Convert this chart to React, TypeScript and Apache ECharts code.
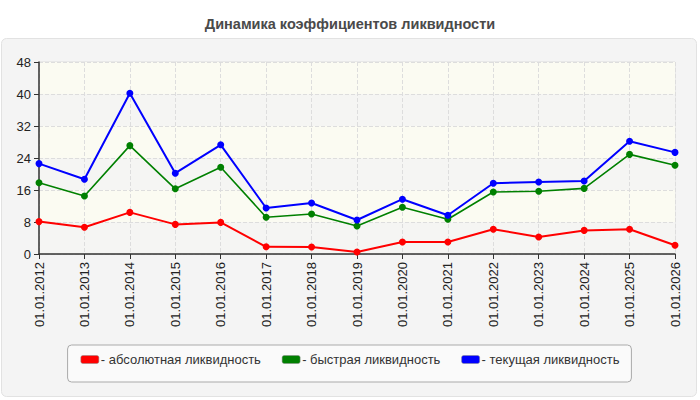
import React, { useEffect, useRef } from 'react';
import * as echarts from 'echarts';

// Динамика коэффициентов ликвидности
const dates = [
  '01.01.2012', '01.01.2013', '01.01.2014', '01.01.2015', '01.01.2016',
  '01.01.2017', '01.01.2018', '01.01.2019', '01.01.2020', '01.01.2021',
  '01.01.2022', '01.01.2023', '01.01.2024', '01.01.2025', '01.01.2026'
];
const absoluteLiquidity = [8.1, 6.7, 10.4, 7.4, 7.9, 1.8, 1.75, 0.5, 3.0, 3.0, 6.2, 4.25, 5.9, 6.2, 2.2];
const quickLiquidity = [17.8, 14.5, 27.1, 16.3, 21.7, 9.2, 10.0, 7.0, 11.7, 8.7, 15.5, 15.7, 16.4, 24.9, 22.2];
const currentLiquidity = [22.6, 18.7, 40.2, 20.2, 27.3, 11.5, 12.75, 8.5, 13.7, 9.7, 17.7, 18.0, 18.25, 28.2, 25.4];
const seriesNames = ['абсолютная ликвидность', 'быстрая ликвидность', 'текущая ликвидность'];
const seriesColors = ['#ff0000', '#008000', '#0000ff'];

const FONT = '"Liberation Sans", Arial, sans-serif';

export default function App() {
  const chartRef = useRef<HTMLDivElement>(null);

  useEffect(() => {
    if (!chartRef.current) return;
    document.body.style.margin = '0';

    const chart = echarts.init(chartRef.current, null, { renderer: 'svg' });

    const values = [absoluteLiquidity, quickLiquidity, currentLiquidity];

    const option: echarts.EChartsOption = {
      animation: false,
      backgroundColor: '#ffffff',
      textStyle: { fontFamily: FONT },
      title: {
        text: 'Динамика коэффициентов ликвидности',
        left: 'center',
        top: 11,
        textStyle: { fontSize: 14.5, fontWeight: 'bold', color: '#4a4a4a', fontFamily: FONT }
      },
      graphic: [
        {
          type: 'rect',
          z: -10,
          shape: { x: 1.5, y: 38.5, width: 695, height: 358, r: 5 },
          style: { fill: '#f4f4f4', stroke: '#e2e2e2', lineWidth: 1 },
          silent: true
        }
      ],
      legend: {
        data: seriesNames.map((name, i) => ({
          name,
          icon: 'roundRect',
          itemStyle: { color: seriesColors[i], borderColor: '#888888', borderWidth: 0.5 }
        })),
        left: 'center',
        top: 345,
        backgroundColor: '#fafafa',
        borderColor: '#aaaaaa',
        borderWidth: 1,
        borderRadius: 4,
        padding: [8, 12, 16, 13],
        itemGap: 21,
        itemWidth: 18,
        itemHeight: 8,
        formatter: (name: string) => '- ' + name,
        textStyle: { fontSize: 13, color: '#333333', fontFamily: FONT, padding: [0, 0, 0, -3] }
      },
      grid: {
        left: 39,
        right: 25,
        top: 62,
        bottom: 146,
        show: true,
        borderColor: '#dddddd',
        borderWidth: 1,
        backgroundColor: 'transparent'
      },
      xAxis: {
        type: 'category',
        data: dates,
        boundaryGap: false,
        axisLine: { show: true, lineStyle: { color: '#333333', width: 1.5 } },
        axisTick: { show: true, length: 5, lineStyle: { color: '#333333' } },
        axisLabel: {
          rotate: 90,
          interval: 0,
          fontSize: 13,
          color: '#222222',
          margin: 8,
          fontFamily: FONT
        },
        splitLine: { show: true, lineStyle: { color: '#dddddd', type: 'dashed' } }
      },
      yAxis: {
        type: 'value',
        min: 0,
        max: 48,
        interval: 8,
        axisLine: { show: true, lineStyle: { color: '#333333', width: 1.5 } },
        axisTick: { show: true, length: 5, lineStyle: { color: '#333333' } },
        axisLabel: { fontSize: 13, color: '#222222', margin: 8, fontFamily: FONT },
        splitLine: { show: true, lineStyle: { color: '#dddddd', type: 'dashed' } },
        splitArea: {
          show: true,
          areaStyle: { color: ['#f5f5f3', '#fbfbf2'] }
        }
      },
      series: seriesNames.map((name, i) => ({
        name,
        type: 'line',
        data: values[i],
        color: seriesColors[i],
        symbol: 'circle',
        symbolSize: 7,
        lineStyle: { width: i === 1 ? 1.6 : 2, color: seriesColors[i] },
        itemStyle: { color: seriesColors[i] }
      }))
    };

    chart.setOption(option);

    return () => {
      chart.dispose();
    };
  }, []);

  return <div ref={chartRef} style={{ width: 700, height: 400 }} />;
}
